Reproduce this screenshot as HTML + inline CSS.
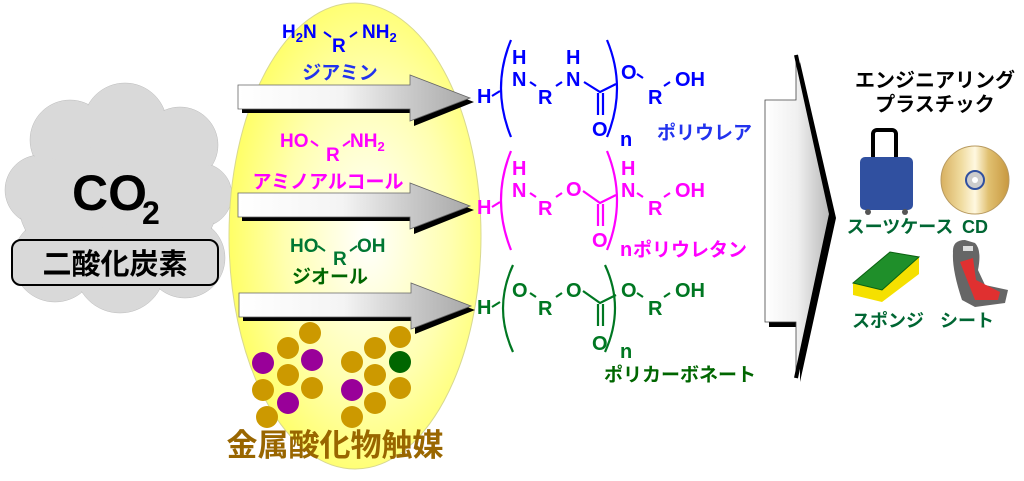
<!DOCTYPE html>
<html><head><meta charset="utf-8"><style>
html,body{margin:0;padding:0;background:#fff;width:1024px;height:481px;overflow:hidden}
svg{display:block}
text{font-family:"Liberation Sans","Noto Sans CJK JP",sans-serif;font-weight:bold}
</style></head><body>
<svg width="1024" height="481" viewBox="0 0 1024 481" xmlns="http://www.w3.org/2000/svg">
<defs>
<radialGradient id="yel" cx="0.55" cy="0.5" r="0.6">
<stop offset="0" stop-color="#ffffff"/><stop offset="0.55" stop-color="#ffffb0"/><stop offset="1" stop-color="#ffff55"/>
</radialGradient>
<linearGradient id="arr" x1="0" x2="1" y1="0" y2="0">
<stop offset="0" stop-color="#ffffff"/><stop offset="0.45" stop-color="#f4f4f4"/><stop offset="0.75" stop-color="#c8c8c8"/><stop offset="1" stop-color="#a8a8a8"/>
</linearGradient>
<linearGradient id="big" x1="0" x2="1" y1="0" y2="0">
<stop offset="0" stop-color="#ffffff"/><stop offset="0.5" stop-color="#f0f0f0"/><stop offset="1" stop-color="#b8b8b8"/>
</linearGradient>
<linearGradient id="cd" x1="0" x2="1">
<stop offset="0" stop-color="#d8b060"/><stop offset="0.3" stop-color="#f0dca0"/><stop offset="0.5" stop-color="#fff8e0"/><stop offset="0.7" stop-color="#e0c070"/><stop offset="1" stop-color="#c89840"/>
</linearGradient>
<g id="a"><polygon points="4,4 176,4 176,-6 236,17 176,41 176,28 4,28" fill="#000"/>
<polygon points="0,0 172,0 172,-10 232,13 172,36 172,24 0,24" fill="url(#arr)" stroke="#666" stroke-width="0.8"/></g>
</defs>

<!-- cloud -->
<g fill="#d9d9d9" stroke="#bbb" stroke-width="0.5">
<circle cx="70" cy="140" r="40"/><circle cx="125" cy="125" r="42"/><circle cx="180" cy="145" r="38"/>
<circle cx="40" cy="190" r="35"/><circle cx="200" cy="195" r="32"/><circle cx="55" cy="260" r="42"/>
<circle cx="120" cy="268" r="45"/><circle cx="185" cy="258" r="40"/><ellipse cx="118" cy="200" rx="100" ry="80"/>
</g>
<g fill="#d9d9d9"><circle cx="70" cy="140" r="39"/><circle cx="125" cy="125" r="41"/><circle cx="180" cy="145" r="37"/>
<circle cx="40" cy="190" r="34"/><circle cx="200" cy="195" r="31"/><circle cx="55" cy="260" r="41"/>
<circle cx="120" cy="268" r="44"/><circle cx="185" cy="258" r="39"/></g>
<text x="72" y="210" font-size="50" fill="#000">CO</text>
<text x="142" y="224" font-size="32" fill="#000">2</text>
<rect x="12" y="240" width="206" height="45" rx="9" fill="#d9d9d9" stroke="#000" stroke-width="2"/>
<text x="115" y="274" font-size="29" text-anchor="middle" fill="#000">二酸化炭素</text>

<!-- ellipse -->
<ellipse cx="355" cy="236" rx="126" ry="233" fill="url(#yel)" stroke="#d8d890" stroke-width="1"/>

<!-- reagents -->
<g fill="#0000ff" font-size="19"><text x="282" y="38">H<tspan font-size="13" dy="4">2</tspan><tspan dy="-4">N</tspan></text>
<text x="332" y="52">R</text><text x="362" y="38">NH<tspan font-size="13" dy="4">2</tspan></text>
<text x="340" y="79" font-size="19" text-anchor="middle" fill="#2233ee">ジアミン</text></g>
<path d="M324 32 l7 5 M350 37 l7 -5" stroke="#0000ff" stroke-width="2"/>
<g fill="#ff00ff" font-size="19"><text x="280" y="147">HO</text><text x="326" y="161">R</text><text x="350" y="147">NH<tspan font-size="13" dy="4">2</tspan></text>
<text x="328" y="188" font-size="19" text-anchor="middle">アミノアルコール</text></g>
<path d="M311 141 l7 5 M343 146 l7 -5" stroke="#ff00ff" stroke-width="2"/>
<g fill="#007733" font-size="19"><text x="290" y="252">HO</text><text x="333" y="265">R</text><text x="357" y="252">OH</text>
<text x="330" y="283" font-size="19" text-anchor="middle" fill="#006600">ジオール</text></g>
<path d="M318 246 l7 5 M350 251 l7 -5" stroke="#007733" stroke-width="2"/>

<!-- arrows -->
<use href="#a" x="238" y="85"/>
<use href="#a" x="238" y="193"/>
<use href="#a" x="239" y="293"/>

<!-- catalyst dots -->
<g fill="#cc9900">
<circle cx="310" cy="333" r="11"/><circle cx="288" cy="348" r="11"/><circle cx="288" cy="375" r="11"/><circle cx="312" cy="388" r="11"/><circle cx="263" cy="390" r="11"/><circle cx="267" cy="417" r="11"/>
<circle cx="400" cy="337" r="11"/><circle cx="375" cy="348" r="11"/><circle cx="352" cy="362" r="11"/><circle cx="375" cy="375" r="11"/><circle cx="400" cy="388" r="11"/><circle cx="375" cy="403" r="11"/><circle cx="352" cy="417" r="11"/>
</g>
<g fill="#990099"><circle cx="263" cy="363" r="11"/><circle cx="312" cy="360" r="11"/><circle cx="288" cy="403" r="11"/><circle cx="352" cy="390" r="11"/></g>
<circle cx="400" cy="362" r="11" fill="#006600"/>
<text x="335" y="456" font-size="31" text-anchor="middle" fill="#996600">金属酸化物触媒</text>

<!-- polymer rows -->
<g font-size="20">
<g fill="#0000ff" stroke="none">
<text x="477" y="103">H</text><text x="512" y="64">H</text><text x="512" y="86">N</text><text x="538" y="104">R</text>
<text x="566" y="64">H</text><text x="566" y="86">N</text><text x="592" y="136">O</text><text x="621" y="79">O</text><text x="648" y="104">R</text><text x="675" y="86">OH</text>
<text x="620" y="146">n</text>
<text x="657" y="139" font-size="19" fill="#2233ee">ポリウレア</text>
</g>
<g stroke="#0000ff" stroke-width="2.2" fill="none">
<path d="M511 40 Q491 88 511 137"/><path d="M607 40 Q627 88 607 137"/>
<path d="M492 96 l8 -5 M530 82 l6 4 M556 86 l6 -4 M584 82 l16 10 l16 -8 M598 93 v22 M603 93 v22 M637 74 l6 4 M664 86 l6 -4"/>
</g>
<g fill="#ff00ff">
<text x="477" y="214">H</text><text x="512" y="175">H</text><text x="512" y="197">N</text><text x="538" y="215">R</text>
<text x="566" y="196">O</text><text x="592" y="247">O</text><text x="621" y="175">H</text><text x="621" y="197">N</text><text x="648" y="215">R</text><text x="675" y="197">OH</text>
<text x="620" y="256">n</text>
<text x="633" y="256" font-size="19">ポリウレタン</text>
</g>
<g stroke="#ff00ff" stroke-width="2.2" fill="none">
<path d="M511 151 Q491 200 511 250"/><path d="M607 151 Q627 200 607 250"/>
<path d="M492 207 l8 -5 M530 193 l6 4 M556 197 l6 -4 M583 191 l17 12 l16 -8 M598 204 v22 M603 204 v22 M637 193 l6 4 M664 197 l6 -4"/>
</g>
<g fill="#007722">
<text x="477" y="314">H</text><text x="512" y="297">O</text><text x="538" y="315">R</text>
<text x="566" y="297">O</text><text x="592" y="350">O</text><text x="621" y="297">O</text><text x="648" y="315">R</text><text x="675" y="297">OH</text>
<text x="620" y="358">n</text>
<text x="680" y="381" font-size="19" text-anchor="middle" fill="#006600">ポリカーボネート</text>
</g>
<g stroke="#007722" stroke-width="2.2" fill="none">
<path d="M513 265 Q493 308 513 352"/><path d="M605 265 Q625 308 605 352"/>
<path d="M492 307 l8 -5 M530 293 l6 4 M556 297 l6 -4 M583 291 l17 12 l16 -8 M598 304 v22 M603 304 v22 M637 293 l6 4 M664 297 l6 -4"/>
</g>
</g>

<!-- big arrow -->
<polygon points="769,104 800,104 800,62 836,218 800,382 800,327 769,327" fill="#000"/>
<polygon points="765,100 796,100 796,55 830,214 796,376 796,322 765,322" fill="url(#big)" stroke="#444" stroke-width="0.8"/>
<path d="M796 55 L831 214 L796 378" stroke="#000" stroke-width="4" fill="none"/>

<!-- right side -->
<text x="935" y="87" font-size="20" text-anchor="middle" fill="#000">エンジニアリング</text>
<text x="935" y="111" font-size="20" text-anchor="middle" fill="#000">プラスチック</text>
<path d="M873 157 V134 a4 4 0 0 1 4 -4 h15 a4 4 0 0 1 4 4 V157" stroke="#000" stroke-width="4" fill="none"/>
<rect x="860" y="157" width="53" height="53" rx="5" fill="#3050a0"/>
<circle cx="868" cy="212" r="3" fill="#555"/><circle cx="905" cy="212" r="3" fill="#555"/>
<circle cx="975" cy="180" r="34" fill="url(#cd)" stroke="#b89a60" stroke-width="1"/>
<circle cx="975" cy="180" r="9" fill="#ccc" stroke="#3050a0" stroke-width="2"/>
<circle cx="975" cy="180" r="3" fill="#fff"/>
<text x="900" y="233" font-size="18" text-anchor="middle" fill="#006633">スーツケース</text>
<text x="975" y="233" font-size="18" text-anchor="middle" fill="#006633">CD</text>
<polygon points="853,283 890,252 919,257 919,274 882,302 853,295" fill="#f5e000"/>
<polygon points="853,283 890,252 919,257 882,290" fill="#1f8f2a" stroke="#0a6010" stroke-width="1"/>
<text x="888" y="327" font-size="18" text-anchor="middle" fill="#006633">スポンジ</text>
<path d="M953 253 Q952 240 965 240 L975 243 Q982 250 978 270 L985 285 L1008 290 L1005 303 L975 307 L962 300 Q952 270 953 253Z" fill="#666"/>
<path d="M960 262 L973 258 L976 280 L1000 292 L998 300 L975 300 Z" fill="#e03030"/>
<rect x="963" y="246" width="10" height="5" fill="#ddd"/>
<text x="967" y="327" font-size="18" text-anchor="middle" fill="#006633">シート</text>
</svg>
</body></html>
